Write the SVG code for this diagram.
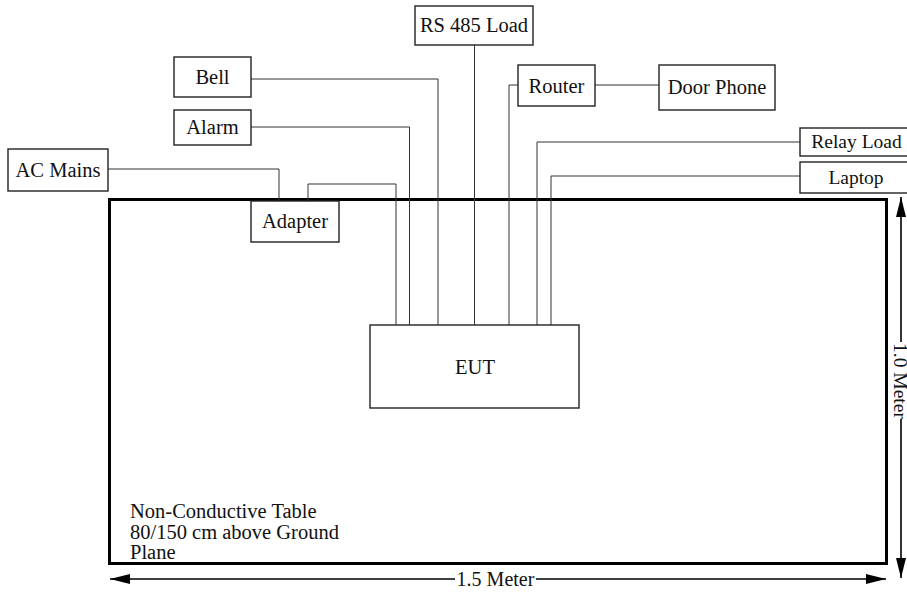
<svg xmlns="http://www.w3.org/2000/svg" width="907" height="596" viewBox="0 0 907 596">
<style>
text{font-family:"Liberation Serif","Times New Roman",serif;font-size:20.5px;fill:#111;}
.c{text-anchor:middle;}
.box{fill:#fff;stroke:#222;stroke-width:1.4;}
.wire{fill:none;stroke:#333;stroke-width:1;}
.dim{fill:none;stroke:#000;stroke-width:1.6;}
</style>
<defs>
<marker id="ah" viewBox="0 0 20 10" refX="20" refY="5" markerWidth="20" markerHeight="10" markerUnits="userSpaceOnUse" orient="auto-start-reverse">
<path d="M0,0 L20,5 L0,10 Z" fill="#000"/>
</marker>
</defs>
<rect width="907" height="596" fill="#fff"/>
<g id="table">
<rect x="109.5" y="199.5" width="777" height="364" fill="none" stroke="#000" stroke-width="3"/>
<text x="130" y="518">Non-Conductive Table</text>
<text x="130" y="539">80/150 cm above Ground</text>
<text x="130" y="559">Plane</text>
</g>
<g id="connectors">
<polyline class="wire" points="108,169 279,169 279,201"/>
<polyline class="wire" points="308,201 308,184 396,184 396,325"/>
<polyline class="wire" points="251,127 409.5,127 409.5,325"/>
<polyline class="wire" points="251,79 438,79 438,325"/>
<polyline class="wire" points="474.5,45 474.5,325"/>
<polyline class="wire" points="518,85 509,85 509,325"/>
<polyline class="wire" points="595,85 659,85"/>
<polyline class="wire" points="800,142 537,142 537,325"/>
<polyline class="wire" points="800,176 551,176 551,325"/>
</g>
<g id="dimensions">
<line class="dim" x1="110" y1="579" x2="455" y2="579" marker-start="url(#ah)"/>
<line class="dim" x1="536" y1="579" x2="886" y2="579" marker-end="url(#ah)"/>
<text class="c" x="495.5" y="586" style="font-size:20px">1.5 Meter</text>
<line class="dim" x1="901" y1="197" x2="901" y2="342" marker-start="url(#ah)"/>
<line class="dim" x1="901" y1="419" x2="901" y2="578" marker-end="url(#ah)"/>
<text class="c" transform="translate(894,381) rotate(90)" style="font-size:19.5px">1.0 Meter</text>
</g>
<g id="bell"><rect class="box" x="174" y="57" width="77" height="40"/><text class="c" x="212.5" y="84">Bell</text></g>
<g id="alarm"><rect class="box" x="174" y="110" width="77" height="35"/><text class="c" x="212.5" y="134">Alarm</text></g>
<g id="ac-mains"><rect class="box" x="8" y="149" width="100" height="42"/><text class="c" x="58" y="177">AC Mains</text></g>
<g id="adapter"><rect class="box" x="251" y="201" width="88" height="41"/><text class="c" x="295" y="228">Adapter</text></g>
<g id="rs485"><rect class="box" x="415" y="6" width="118" height="39"/><text class="c" x="474" y="32">RS 485 Load</text></g>
<g id="router"><rect class="box" x="518" y="65" width="77" height="41"/><text class="c" x="556.5" y="93">Router</text></g>
<g id="door-phone"><rect class="box" x="659" y="65" width="116" height="45"/><text class="c" x="717" y="94">Door Phone</text></g>
<g id="relay-load"><rect class="box" x="800" y="128" width="115" height="28"/><text class="c" x="856.5" y="148" style="font-size:19.5px">Relay Load</text></g>
<g id="laptop"><rect class="box" x="800" y="162" width="115" height="31"/><text class="c" x="856" y="184" style="font-size:19.5px">Laptop</text></g>
<g id="eut"><rect class="box" x="370" y="325" width="209" height="83"/><text class="c" x="475" y="374">EUT</text></g>
</svg>
